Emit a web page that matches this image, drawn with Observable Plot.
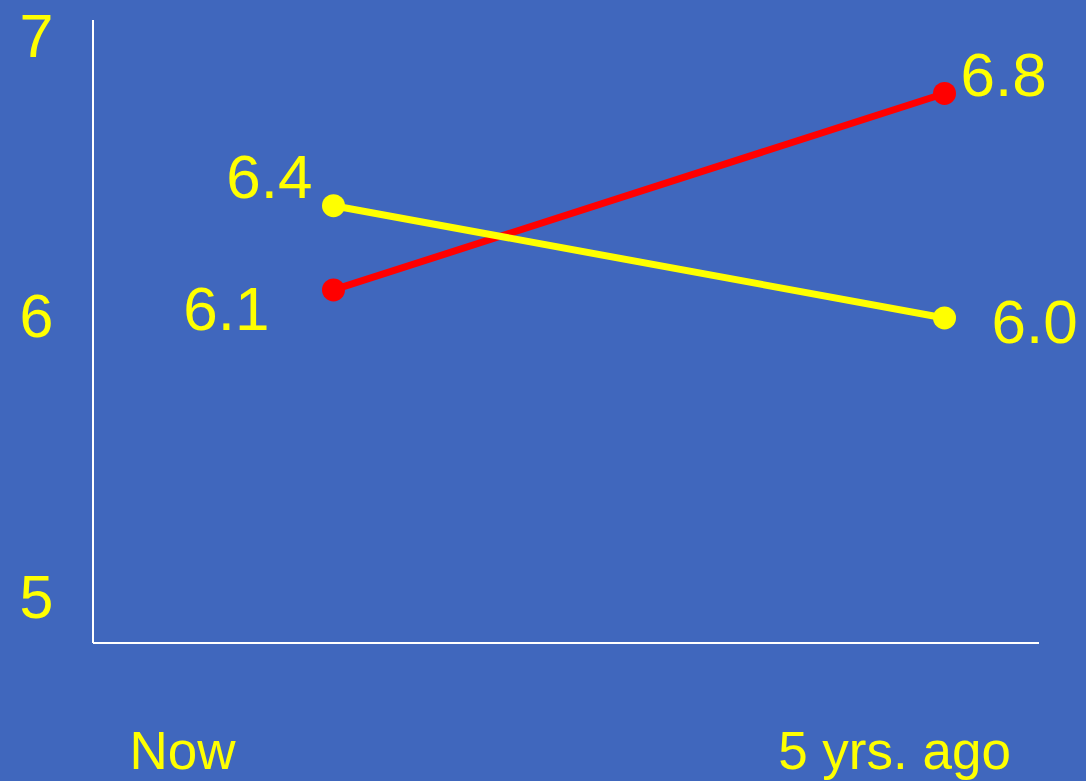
<!DOCTYPE html>
<html>
<head>
<meta charset="utf-8">
<script src="https://cdn.jsdelivr.net/npm/d3@7"></script>
<script src="https://cdn.jsdelivr.net/npm/@observablehq/plot@0.6"></script>
<style>
  html, body { margin: 0; padding: 0; background: #4067BD; }
  #chart svg { display: block; }
</style>
</head>
<body>
<div id="chart"></div>
<script>
// Two survey items, scored now and five years ago
const periods = ["Now", "5 yrs. ago"];
const seriesNames = ["red", "yellow"];
const redValues = [6.1, 6.8];
const yellowValues = [6.4, 6.0];
const yTicks = [5, 6, 7];

const rows = [
  ...periods.map((p, i) => ({series: "red", period: p, value: redValues[i]})),
  ...periods.map((p, i) => ({series: "yellow", period: p, value: yellowValues[i]}))
];

const YELLOW = "#FFFF00";
const fmt = d3.format(".1f");
const pick = (s, p) => rows.filter(d => d.series === s && d.period === p);

// value label next to one point
const valueLabel = (s, p, opts) => Plot.text(pick(s, p), {
  x: "period", y: "value", text: d => fmt(d.value),
  fill: YELLOW, fontSize: 62, lineAnchor: "bottom", ...opts
});

// white axis line along one side of the frame
const frameSide = (side) => (index, scales, values, dims) => {
  const {width, height, marginLeft, marginRight, marginTop, marginBottom} = dims;
  const x0 = marginLeft, x1 = width - marginRight;
  const y0 = marginTop, y1 = height - marginBottom;
  const line = d3.create("svg:line")
    .attr("stroke", "#FFFFFF").attr("stroke-width", 2);
  if (side === "left") line.attr("x1", x0).attr("x2", x0).attr("y1", y0).attr("y2", y1);
  else line.attr("x1", x0).attr("x2", x1).attr("y1", y1).attr("y2", y1);
  return line.node();
};

const chart = Plot.plot({
  width: 1086,
  height: 781,
  marginTop: 20,
  marginBottom: 138,
  marginLeft: 93,
  marginRight: 47,
  style: {background: "#4067BD", fontFamily: "'Liberation Sans', Arial, sans-serif", overflow: "visible"},
  x: {type: "point", domain: periods, padding: 0.274, align: 0.716, axis: null},
  y: {domain: [4.84, 7.06], axis: null},
  color: {domain: seriesNames, range: ["#FF0000", YELLOW]},
  marks: [
    frameSide("left"),
    frameSide("bottom"),
    Plot.axisY(yTicks, {tickSize: 0, tickPadding: 40, fontSize: 61, fill: YELLOW, label: null, tickFormat: d => String(d)}),
    Plot.text(periods.slice(0, 1), {x: d => d, frameAnchor: "bottom", dy: 125, dx: -151, fontSize: 53, fill: YELLOW, lineAnchor: "bottom"}),
    Plot.text(periods.slice(1), {x: d => d, frameAnchor: "bottom", dy: 125, dx: -50, fontSize: 53, fill: YELLOW, lineAnchor: "bottom"}),
    Plot.line(rows, {x: "period", y: "value", z: "series", stroke: "series", strokeWidth: 7}),
    Plot.dot(rows, {x: "period", y: "value", r: 11.5, fill: "series"}),
    valueLabel("yellow", "Now", {textAnchor: "end", dx: -21, dy: -8}),
    valueLabel("red", "Now", {textAnchor: "end", dx: -64, dy: 40}),
    valueLabel("red", "5 yrs. ago", {textAnchor: "start", dx: 16, dy: 3}),
    valueLabel("yellow", "5 yrs. ago", {textAnchor: "start", dx: 47, dy: 25})
  ]
});

document.getElementById("chart").append(chart);
</script>
</body>
</html>
